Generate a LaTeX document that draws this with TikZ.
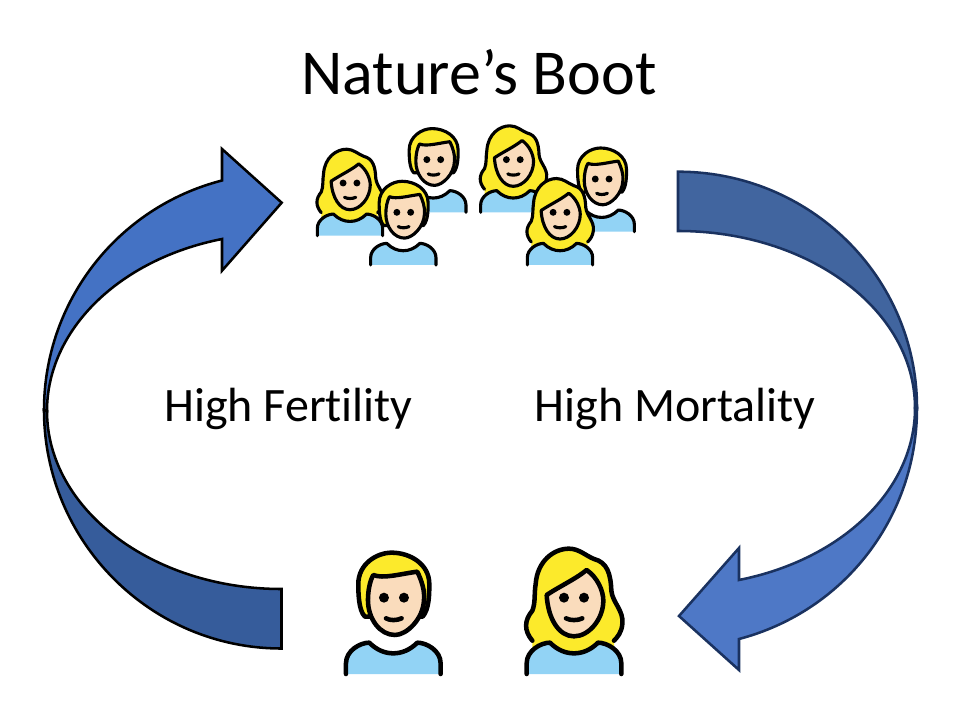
\documentclass[tikz,border=0pt]{standalone}
\usepackage{fontspec}
\setmainfont[Ligatures=NoCommon]{Carlito}
\definecolor{hairc}{HTML}{FCEA2B}
\definecolor{skinc}{HTML}{FADCBC}
\definecolor{shirtc}{HTML}{92D3F5}
\definecolor{lightarrow}{HTML}{4472C4}
\definecolor{darkarrow}{HTML}{365C9B}
\definecolor{rdarkarrow}{HTML}{41659F}
\definecolor{rlightarrow}{HTML}{4E78C6}
\definecolor{navyline}{HTML}{1A3260}
\tikzset{
  leftarrow/.style={draw=black,line width=1.9pt,line join=miter,miter limit=3},
  rightarrow/.style={draw=navyline,line width=1.9pt,line join=miter,miter limit=3},
  outline/.style={draw=black,line cap=round,line join=round},
  titletext/.style={font=\fontsize{48}{56}\selectfont,inner sep=0pt},
  labeltext/.style={font=\fontsize{36}{42}\selectfont,inner sep=0pt}
}
\newcommand{\shirtpart}{%
  \fill[shirtc] (-142,0) -- (-142,-32) .. controls (-142,-70) and (-100,-94) .. (-72,-94)
    .. controls (-50,-72) and (-25,-62) .. (0,-62) .. controls (25,-62) and (50,-72) .. (72,-94)
    .. controls (100,-94) and (142,-70) .. (142,-32) -- (142,0) -- cycle;
  \draw[outline] (-142,0) -- (-142,-32) .. controls (-142,-70) and (-100,-94) .. (-72,-94)
    .. controls (-50,-72) and (-25,-62) .. (0,-62) .. controls (25,-62) and (50,-72) .. (72,-94)
    .. controls (100,-94) and (142,-70) .. (142,-32) -- (142,0);
}
\newcommand{\manfig}[3]{%
\begin{scope}[shift={(#1,#2)},x=#3*0.25pt,y=-#3*0.25pt,line width=#3*3.4pt]
  \fill[hairc,draw=black,line cap=round,line join=round]
    (-85,-172) .. controls (-105,-190) and (-105,-250) .. (-105,-270)
    .. controls (-105,-330) and (-50,-364) .. (-5,-364)
    .. controls (50,-364) and (108,-330) .. (108,-270)
    .. controls (108,-240) and (108,-195) .. (88,-172) -- cycle;
  \fill[skinc,draw=black,line join=round]
    (-60,-297) .. controls (-30,-285) and (20,-300) .. (72,-307)
    .. controls (85,-280) and (95,-250) .. (92,-222)
    .. controls (90,-165) and (40,-117) .. (5,-117)
    .. controls (-40,-117) and (-76,-165) .. (-76,-222)
    .. controls (-76,-250) and (-70,-280) .. (-60,-297) -- cycle;
  \fill (-28,-229) circle[radius=#3*3.75pt];
  \fill (32,-229) circle[radius=#3*3.75pt];
  \draw[outline] (-22,-167) .. controls (-10,-160) and (10,-160) .. (25,-167);
  \shirtpart
\end{scope}}
\newcommand{\womanfig}[3]{%
\begin{scope}[shift={(#1,#2)},x=#3*0.25pt,y=-#3*0.25pt,line width=#3*3.4pt]
  \fill[hairc] (-125,-100) .. controls (-150,-130) and (-150,-160) .. (-125,-190)
    .. controls (-115,-215) and (-120,-240) .. (-115,-270)
    .. controls (-110,-340) and (-60,-376) .. (-15,-376)
    .. controls (15,-376) and (35,-355) .. (60,-345)
    .. controls (100,-335) and (110,-300) .. (112,-250)
    .. controls (115,-215) and (150,-190) .. (145,-150)
    .. controls (143,-125) and (130,-110) .. (120,-100) -- (120,-60) -- (-125,-60) -- cycle;
  \draw[outline] (-125,-100) .. controls (-150,-130) and (-150,-160) .. (-125,-190)
    .. controls (-115,-215) and (-120,-240) .. (-115,-270)
    .. controls (-110,-340) and (-60,-376) .. (-15,-376)
    .. controls (15,-376) and (35,-355) .. (60,-345)
    .. controls (100,-335) and (110,-300) .. (112,-250)
    .. controls (115,-215) and (150,-190) .. (145,-150)
    .. controls (143,-125) and (130,-110) .. (120,-100);
  \fill[skinc,draw=black,line join=round]
    (-82,-237) .. controls (-45,-262) and (5,-285) .. (38,-312)
    .. controls (70,-290) and (88,-250) .. (88,-220)
    .. controls (88,-165) and (45,-113) .. (0,-113)
    .. controls (-45,-113) and (-78,-165) .. (-82,-237) -- cycle;
  \fill (-30,-229) circle[radius=#3*3.75pt];
  \fill (30,-229) circle[radius=#3*3.75pt];
  \draw[outline] (-24,-167) .. controls (-12,-160) and (12,-160) .. (25,-167);
  \shirtpart
\end{scope}}
\begin{document}
\begin{tikzpicture}[x=0.75pt,y=-0.75pt]
\useasboundingbox (0,0) rectangle (960,720);
% left arrow
\path[fill=darkarrow,leftarrow] (47,411) .. controls (47,509) and (152,589) .. (281.5,589)
  -- (281.5,648.5) .. controls (150,648.5) and (44,541) .. (44,410) -- cycle;
\path[fill=lightarrow,leftarrow] (222,180.5) .. controls (117.2,207.4) and (44,301.8) .. (44,410)
  -- (47,411) .. controls (47,330) and (118.9,259.4) .. (222,239)
  -- (222,270.7) -- (281.7,202.7) -- (222,149) -- cycle;
% right arrow
\path[fill=rdarkarrow,rightarrow] (678,171.7) .. controls (810,171.7) and (917,277) .. (917,408)
  -- (915,408) .. controls (915,310) and (809,231) .. (678,231) -- cycle;
\path[fill=rlightarrow,rightarrow] (917,408) .. controls (917,517) and (844.5,611.2) .. (739,639)
  -- (739,670) -- (679,616) -- (739,548) -- (739,580)
  .. controls (843.2,559.2) and (915,489) .. (915,408) -- cycle;
% text
\node[titletext] (title) at (479,72) {Nature’s Boot};
\node[labeltext] (fert) at (288.5,409) {High Fertility};
\node[labeltext] (mort) at (675,409) {High Mortality};
% small group
\manfig{433.3}{212.3}{0.69}
\womanfig{350}{235.7}{0.69}
\manfig{403.3}{265}{0.69}
\womanfig{513.3}{212.3}{0.69}
\manfig{601.7}{231.7}{0.69}
\womanfig{560}{265}{0.69}
% large pair
\manfig{393.3}{674}{1}
\womanfig{574}{674}{1}
\end{tikzpicture}
\end{document}
